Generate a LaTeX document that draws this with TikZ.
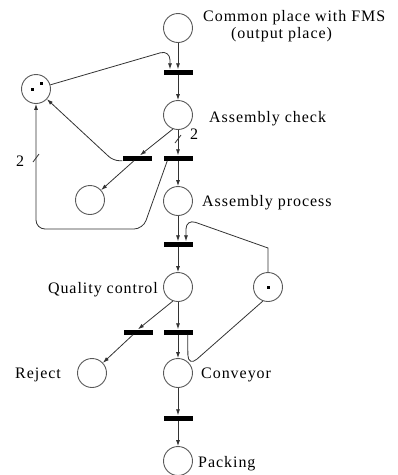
\documentclass[tikz,border=0pt]{standalone}
\usepackage{fontspec}
\setmainfont{Liberation Serif}[LetterSpace=6]
\usetikzlibrary{arrows.meta,calc}

\begin{document}
\begin{tikzpicture}[x=1pt,y=-1pt,
  place/.style={circle,draw=black!65,line width=0.9pt,minimum size=29pt,inner sep=0pt,fill=white},
  trans/.style={rectangle,fill=black,minimum width=29pt,minimum height=5pt,inner sep=0pt},
  arc/.style={draw=black!80,line width=0.8pt,-{Latex[length=6pt,width=4pt]}},
  plain/.style={draw=black!80,line width=0.8pt},
  token/.style={rectangle,fill=black,minimum size=3pt,inner sep=0pt},
  lbl/.style={font=\fontsize{16}{19}\selectfont,inner sep=0pt}]

\useasboundingbox (0,0) rectangle (398,475);

% places
\node[place] (pCommon) at (178,28) {};
\node[place] (pBuf)    at (36,89) {};
\node[place] (pCheck)  at (178,115) {};
\node[place] (pWaste)  at (90,200) {};
\node[place] (pProc)   at (178,201) {};
\node[place] (pQC)     at (178,287) {};
\node[place] (pRes)    at (268,287) {};
\node[place] (pRej)    at (92,373) {};
\node[place] (pConv)   at (178,373) {};
\node[place] (pPack)   at (178,461) {};

% tokens
\node[token] (tokA) at (32,89) {};
\node[token] (tokB) at (41,83) {};
\node[token] (tokC) at (268,287) {};

% transitions
\node[trans] (tIn)   at (178,72) {};
\node[trans] (tL1)   at (137,158) {};
\node[trans] (tR1)   at (178,158) {};
\node[trans] (tQ)    at (178,244) {};
\node[trans] (tRej)  at (138,332) {};
\node[trans] (tOk)   at (178,332) {};
\node[trans] (tPack) at (178,418) {};

% bend points
\coordinate (bTop)  at (170,50);
\coordinate (bLow)  at (143,229);
\coordinate (bLeft) at (36,229);
\coordinate (bResA) at (268,248);
\coordinate (bResB) at (186,219);
\coordinate (bRet)  at (188,367);

% arcs
\draw[arc] (pCommon) -- (tIn);
\draw[arc,rounded corners=10] (pBuf) -- (bTop) -- ($(tIn.north)+(-8,0)$);
\draw[arc] (tIn) -- (pCheck);
\draw[arc] (pCheck) -- (tR1);
\draw[plain] (175,143) -- (181,135);
\draw[arc] (pCheck.250) -- ($(tL1.north)+(3,0)$);
\draw[arc] ($(tL1.south)+(-3,0)$) -- (pWaste);
\draw[arc,rounded corners=6] (tL1.south west) -- ++(-9,0) -- (pBuf);
\draw[arc,rounded corners=9] ($(tR1.south west)+(4,0)$) -- (bLow) -- (bLeft) -- (pBuf.south);
\draw[plain] (33,162) -- (39,154);
\draw[arc] (tR1) -- (pProc);
\draw[arc] (pProc) -- (tQ);
\draw[arc] (pRes.north) -- (bResA) [rounded corners=10] -- (bResB) -- ($(tQ.north)+(8,0)$);
\draw[arc] (tQ) -- (pQC);
\draw[arc] (pQC.250) -- (tRej.north);
\draw[arc] ($(tRej.south)+(-5,0)$) -- (pRej);
\draw[arc] (pQC) -- (tOk);
\draw[arc] (tOk) -- (pConv);
\draw[plain,rounded corners=12] ($(tOk.south east)+(-5,0)$) -- (bRet) -- (pRes.250);
\draw[arc] (pConv) -- (tPack);
\draw[arc] (tPack) -- (pPack);

% labels
\node[lbl,anchor=base west] (lCommonA) at (203,21) {Common place with FMS};
\node[lbl,anchor=base west] (lCommonB) at (231,38) {(output place)};
\node[lbl,anchor=base west] (lCheck) at (209,122) {Assembly check};
\node[lbl,anchor=base west] (lProc) at (202,206) {Assembly process};
\node[lbl,anchor=base east] (lQC) at (158,293) {Quality control};
\node[lbl,anchor=base west] (lRej) at (15,378) {Reject};
\node[lbl,anchor=base west] (lConv) at (201,378) {Conveyor};
\node[lbl,anchor=base west] (lPack) at (198,467) {Packing};
\node[lbl,anchor=base west] (wA) at (190,139) {2};
\node[lbl,anchor=base west] (wB) at (16,166) {2};
\end{tikzpicture}
\end{document}
